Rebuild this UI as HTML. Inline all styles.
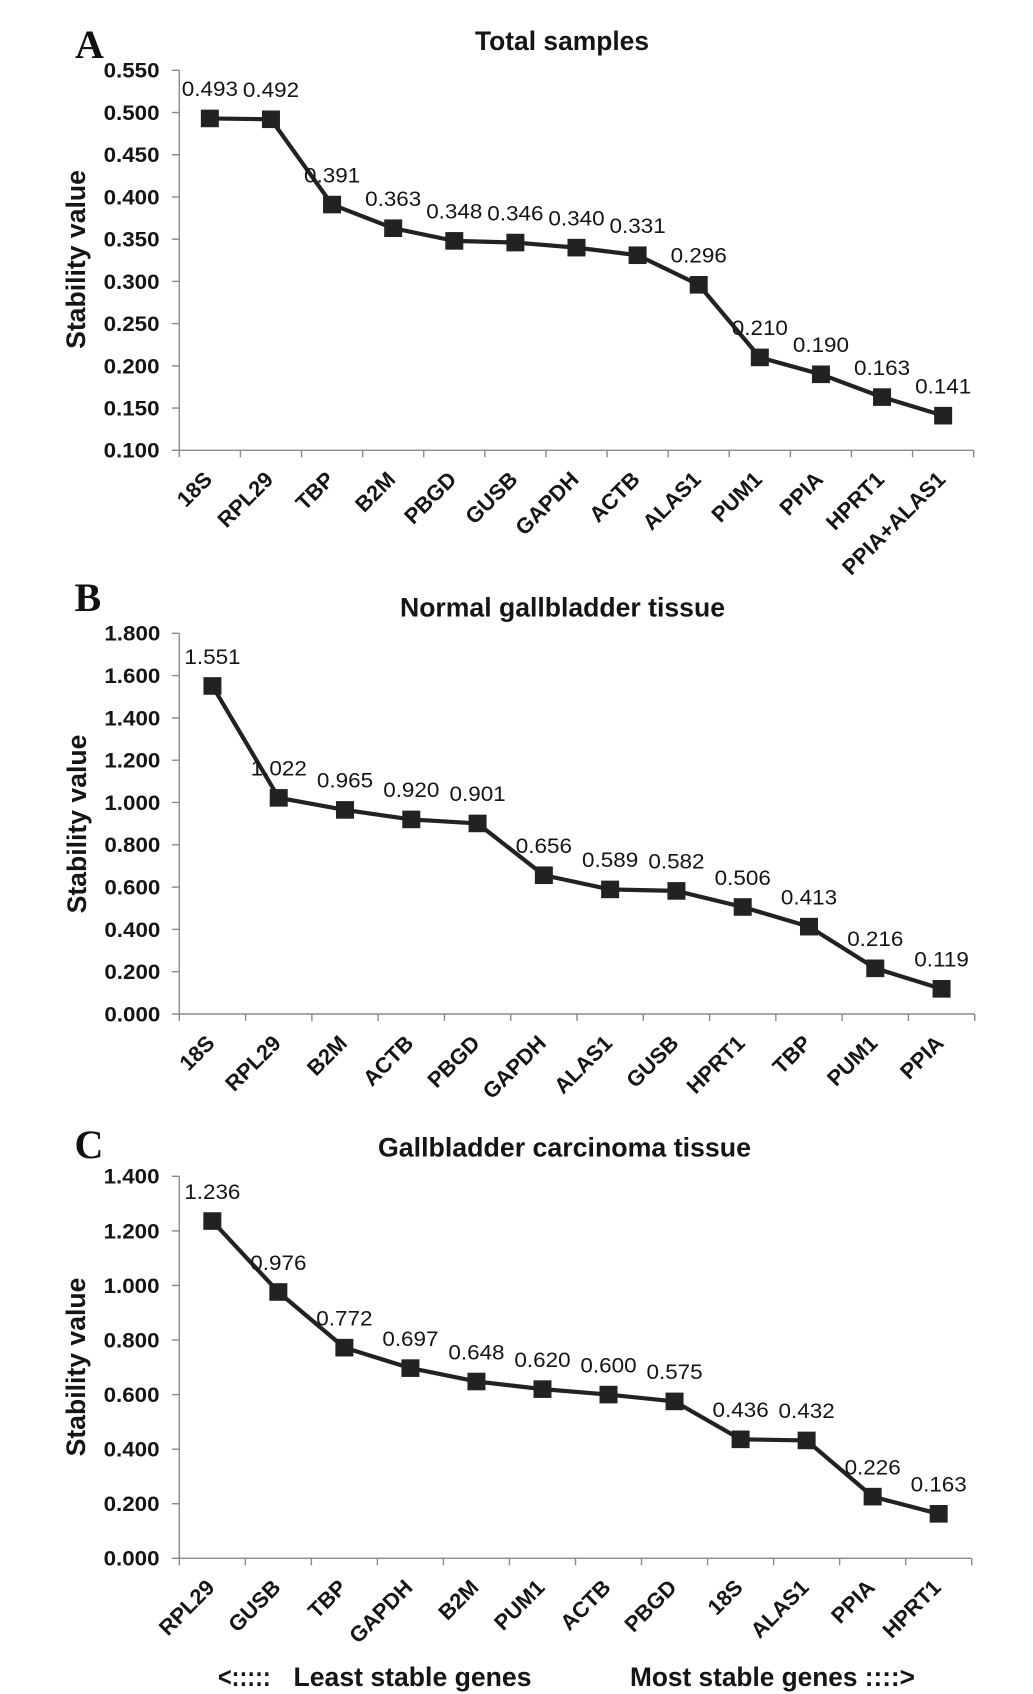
<!DOCTYPE html>
<html lang="en">
<head>
<meta charset="utf-8">
<title>Stability value charts</title>
<style>
html,body{margin:0;padding:0;background:#fff;}
svg{display:block;}
text{font-family:"Liberation Sans",Arial,sans-serif;fill:#151515;}
.bold{font-weight:bold;}
.serif{font-family:"Liberation Serif",serif;font-weight:bold;fill:#111;}
</style>
</head>
<body>
<svg id="figure" width="1033" height="1694" viewBox="0 0 1033 1694" xmlns="http://www.w3.org/2000/svg">
  <rect x="0" y="0" width="1033" height="1694" fill="#fff"/>
  <text class="serif" font-size="40" x="75" y="58">A</text>
  <text class="serif" font-size="40" x="74.5" y="611">B</text>
  <text class="serif" font-size="40" x="74.5" y="1158">C</text>
  <text class="bold" font-size="26.5" x="218" y="1686" textLength="52.7" lengthAdjust="spacingAndGlyphs">&lt;:::::</text>
  <text class="bold" font-size="26.5" x="293.5" y="1686" textLength="238" lengthAdjust="spacingAndGlyphs">Least stable genes</text>
  <text class="bold" font-size="26.5" x="630" y="1686" textLength="285" lengthAdjust="spacingAndGlyphs">Most stable genes ::::&gt;</text>
</svg>
<script>
var catsA = ['18S','RPL29','TBP','B2M','PBGD','GUSB','GAPDH','ACTB','ALAS1','PUM1','PPIA','HPRT1','PPIA+ALAS1'];
var valsA = [0.493,0.492,0.391,0.363,0.348,0.346,0.340,0.331,0.296,0.210,0.190,0.163,0.141];
var ticksA = ['0.100','0.150','0.200','0.250','0.300','0.350','0.400','0.450','0.500','0.550'];

var catsB = ['18S','RPL29','B2M','ACTB','PBGD','GAPDH','ALAS1','GUSB','HPRT1','TBP','PUM1','PPIA'];
var valsB = [1.551,1.022,0.965,0.920,0.901,0.656,0.589,0.582,0.506,0.413,0.216,0.119];
var ticksB = ['0.000','0.200','0.400','0.600','0.800','1.000','1.200','1.400','1.600','1.800'];

var catsC = ['RPL29','GUSB','TBP','GAPDH','B2M','PUM1','ACTB','PBGD','18S','ALAS1','PPIA','HPRT1'];
var valsC = [1.236,0.976,0.772,0.697,0.648,0.620,0.600,0.575,0.436,0.432,0.226,0.163];
var ticksC = ['0.000','0.200','0.400','0.600','0.800','1.000','1.200','1.400'];

var NS = 'http://www.w3.org/2000/svg';
var svg = document.getElementById('figure');

function make(tag, parent) {
  var el = document.createElementNS(NS, tag);
  parent.appendChild(el);
  return el;
}

function drawChart(cfg, cats, vals, ticks) {
  var g = make('g', svg);
  
  

  var yMin = parseFloat(ticks[0]);
  var yMax = parseFloat(ticks[ticks.length - 1]);
  var step = (cfg.x1 - cfg.x0) / cats.length;
  function xScale(i) { return cfg.x0 + step * (i + 0.5); }
  function yScale(v) { return cfg.bottom - (v - yMin) / (yMax - yMin) * (cfg.bottom - cfg.top); }

  var title = make('text', g);
  
  
  title.setAttribute('class', 'bold');
  title.setAttribute('font-size', '26.5');
  title.setAttribute('x', cfg.titleX);
  title.setAttribute('y', cfg.titleY);
  title.setAttribute('textLength', cfg.titleW);
  title.setAttribute('lengthAdjust', 'spacingAndGlyphs');
  title.textContent = cfg.title;

  var yTitle = make('text', g);
  
  
  yTitle.setAttribute('class', 'bold');
  yTitle.setAttribute('font-size', '26.6');
  yTitle.setAttribute('text-anchor', 'middle');
  yTitle.setAttribute('transform', 'translate(' + cfg.yTitleX + ',' + cfg.yTitleY + ') rotate(-90)');
  yTitle.textContent = 'Stability value';

  var yAxis = make('line', g);
  
  
  yAxis.setAttribute('x1', cfg.x0);
  yAxis.setAttribute('x2', cfg.x0);
  yAxis.setAttribute('y1', cfg.top);
  yAxis.setAttribute('y2', cfg.bottom);
  yAxis.setAttribute('stroke', '#8a8a8a');
  yAxis.setAttribute('stroke-width', '1.4');

  var xAxis = make('line', g);
  
  
  xAxis.setAttribute('x1', cfg.x0);
  xAxis.setAttribute('x2', cfg.x1);
  xAxis.setAttribute('y1', cfg.bottom);
  xAxis.setAttribute('y2', cfg.bottom);
  xAxis.setAttribute('stroke', '#8a8a8a');
  xAxis.setAttribute('stroke-width', '1.4');

  ticks.forEach(function (t) {
    var y = yScale(parseFloat(t));
    var tick = make('line', g);
    
    
    tick.setAttribute('x1', cfg.x0 - 7.5);
    tick.setAttribute('x2', cfg.x0);
    tick.setAttribute('y1', y);
    tick.setAttribute('y2', y);
    tick.setAttribute('stroke', '#8a8a8a');
    tick.setAttribute('stroke-width', '1.4');

    var lab = make('text', g);
    
    
    lab.setAttribute('class', 'bold');
    lab.setAttribute('font-size', '21.5');
    lab.setAttribute('text-anchor', 'end');
    lab.setAttribute('transform', 'translate(' + cfg.tickRight + ',' + (y + 7.4) + ') scale(1.04,1)');
    lab.textContent = t;
  });

  for (var k = 0; k <= cats.length; k++) {
    var tx = cfg.x0 + step * k;
    var xt = make('line', g);
    
    
    xt.setAttribute('x1', tx);
    xt.setAttribute('x2', tx);
    xt.setAttribute('y1', cfg.bottom);
    xt.setAttribute('y2', cfg.bottom + 7);
    xt.setAttribute('stroke', '#8a8a8a');
    xt.setAttribute('stroke-width', '1.4');
  }

  cats.forEach(function (c, i) {
    var lab = make('text', g);
    
    
    lab.setAttribute('class', 'bold');
    lab.setAttribute('font-size', '21.8');
    lab.setAttribute('text-anchor', 'end');
    lab.setAttribute('transform', 'translate(' + (xScale(i) + 3.5) + ',' + (cfg.bottom + 30.5) + ') rotate(-45)');
    lab.textContent = c;
  });

  var pts = vals.map(function (v, i) { return xScale(i) + ',' + yScale(v); }).join(' ');
  var line = make('polyline', g);
  
  
  line.setAttribute('points', pts);
  line.setAttribute('fill', 'none');
  line.setAttribute('stroke', '#222');
  line.setAttribute('stroke-width', '4.2');
  line.setAttribute('stroke-linejoin', 'round');

  vals.forEach(function (v, i) {
    var x = xScale(i), y = yScale(v);
    var val = make('text', g);
    
    
    val.setAttribute('font-size', '21.5');
    val.setAttribute('text-anchor', 'middle');
    val.setAttribute('transform', 'translate(' + x + ',' + (y - 22.2) + ') scale(1.045,1)');
    val.textContent = v.toFixed(3);

    var m = make('rect', g);
    
    
    m.setAttribute('x', x - 9);
    m.setAttribute('y', y - 8.8);
    m.setAttribute('width', '18');
    m.setAttribute('height', '17.6');
    m.setAttribute('fill', '#222');
  });
}

drawChart({name:'chart-total-samples', title:'Total samples', titleX:475, titleY:50, titleW:174, yTitleX:85, yTitleY:259.5, tickRight:159.5,
  x0:179.3, x1:973.7, top:70.3, bottom:450.3}, catsA, valsA, ticksA);
drawChart({name:'chart-normal-gallbladder', title:'Normal gallbladder tissue', titleX:400, titleY:616.5, titleW:325, yTitleX:86, yTitleY:824, tickRight:160.3,
  x0:179.3, x1:974.7, top:633.3, bottom:1014}, catsB, valsB, ticksB);
drawChart({name:'chart-gallbladder-carcinoma', title:'Gallbladder carcinoma tissue', titleX:378, titleY:1156.5, titleW:373, yTitleX:85, yTitleY:1367, tickRight:159.5,
  x0:179.3, x1:971.7, top:1176.3, bottom:1558.3}, catsC, valsC, ticksC);
</script>
</body>
</html>
